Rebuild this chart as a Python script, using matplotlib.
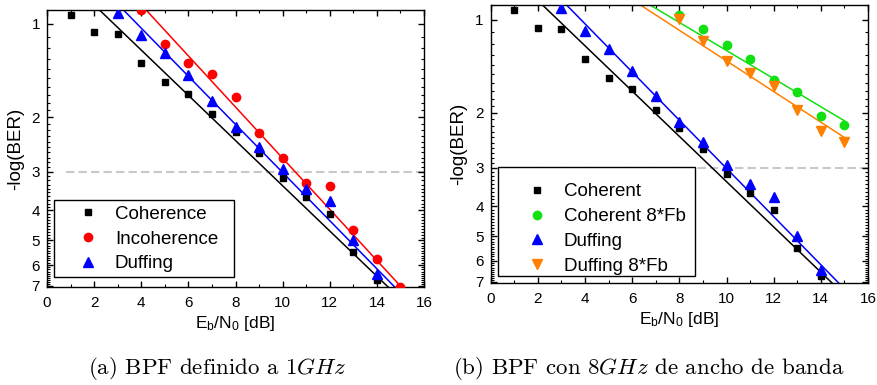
import numpy as np
import matplotlib
matplotlib.use("Agg")
import matplotlib.pyplot as plt
import matplotlib.ticker as mticker
import matplotlib.lines as mlines
from matplotlib.patches import Rectangle

plt.rcParams.update({
    'font.family': 'Liberation Sans',
    'mathtext.fontset': 'custom',
    'mathtext.rm': 'Liberation Sans',
    'mathtext.it': 'Liberation Sans:italic',
    'axes.linewidth': 1.0,
})

# ---------- data ----------
snr = [1, 2, 3, 4, 5, 6, 7, 8, 9, 10, 11, 12, 13, 14]
coherent = [0.935, 1.065, 1.075, 1.34, 1.545, 1.68, 1.95, 2.24, 2.62, 3.15, 3.62, 4.10, 5.43, 6.72]

snr_duff = [3, 4, 5, 6, 7, 8, 9, 10, 11, 12, 13, 14]
duffing = [0.92, 1.088, 1.245, 1.463, 1.77, 2.145, 2.49, 2.945, 3.40, 3.74, 5.0, 6.42]

snr_incoh = [4, 5, 6, 7, 8, 9, 10, 11, 12, 13, 14, 15]
incoherence = [0.90, 1.163, 1.34, 1.45, 1.72, 2.25, 2.70, 3.27, 3.33, 4.63, 5.74, 7.08]

snr_8fb = [8, 9, 10, 11, 12, 13, 14, 15]
coherent_8fb = [0.966, 1.077, 1.21, 1.339, 1.564, 1.714, 2.05, 2.18]
duffing_8fb = [0.993, 1.177, 1.359, 1.485, 1.643, 1.959, 2.284, 2.48]

# fitted lines (start / end points)
fit_coh_x, fit_coh_y = [2.21, 14.49], [0.90, 7.08]
fit_duf_x, fit_duf_y = [3.23, 14.77], [0.90, 7.08]
fit_inc_x, fit_inc_y = [4.19, 15.05], [0.90, 7.08]
fit_c8_x, fit_c8_y = [6.78, 15.0], [0.90, 2.12]
fit_d8_x, fit_d8_y = [6.37, 15.0], [0.90, 2.40]

BER_LIMIT = 3
YTICKS = [1, 2, 3, 4, 5, 6, 7]
XTICKS = [0, 2, 4, 6, 8, 10, 12, 14, 16]

BLACK = "black"
RED = "#ff0000"
BLUE = "#0000ff"
GREEN = "#11e011"
ORANGE = "#ff8000"

W, H = 877, 385
fig = plt.figure(figsize=(W / 100, H / 100), dpi=100)

ax1 = fig.add_axes([47 / W, 1 - 287.3 / H, 377 / W, 277.7 / H])
ax2 = fig.add_axes([490.7 / W, 1 - 283.3 / H, 377.3 / W, 278 / H])


def style_axis(ax):
    ax.set_yscale("log")
    ax.set_xlim(0, 16)
    ax.set_ylim(7.08, 0.90)
    ax.yaxis.set_major_locator(mticker.FixedLocator(YTICKS))
    ax.yaxis.set_major_formatter(mticker.FixedFormatter([str(t) for t in YTICKS]))
    ax.yaxis.set_minor_locator(mticker.FixedLocator(np.arange(0.9, 7.1, 0.1)))
    ax.yaxis.set_minor_formatter(mticker.NullFormatter())
    ax.set_xticks(XTICKS)
    ax.xaxis.set_minor_locator(mticker.MultipleLocator(1))
    ax.tick_params(which="both", direction="in", top=True, right=True, labelsize=11)
    ax.tick_params(which="major", length=4, width=1.0)
    ax.tick_params(which="minor", length=2.5, width=0.8)
    ax.tick_params(axis="x", pad=6)
    ax.tick_params(axis="y", pad=5)
    ax.hlines(BER_LIMIT, 0.8, 16, colors="#c8c8c8", linestyles=(0, (4, 2)), lw=1.5, zorder=1)
    ax.set_xlabel(r"E$_\mathrm{b}$/N$_\mathrm{0}$ [dB]", fontsize=12.5)
    ax.set_ylabel("-log(BER)", fontsize=13.5)
    ax.xaxis.set_label_coords(0.5, -0.095)
    ax.yaxis.set_label_coords(-0.062, 0.5)


def framed_legend(ax, handles, box, anchor):
    ax.add_patch(Rectangle((box[0], box[1]), box[2], box[3], transform=ax.transAxes,
                           facecolor="white", edgecolor="black", lw=1.0, zorder=5))
    leg = ax.legend(handles=handles, loc="center left", bbox_to_anchor=anchor,
                    frameon=False, fontsize=13.5, borderpad=0, borderaxespad=0,
                    handlelength=1.6, handletextpad=0.64, labelspacing=0.41)
    leg.set_zorder(6)


def mk(color, marker, ms, label):
    return mlines.Line2D([], [], color=color, marker=marker, ms=ms, ls="none", label=label)


# ---------- (a) ----------
style_axis(ax1)
ax1.plot(fit_coh_x, fit_coh_y, color=BLACK, lw=1.1, zorder=2)
ax1.plot(fit_duf_x, fit_duf_y, color=BLUE, lw=1.1, zorder=2)
ax1.plot(fit_inc_x, fit_inc_y, color=RED, lw=1.1, zorder=2)
ax1.plot(snr, coherent, "s", color=BLACK, ms=5, zorder=3)
ax1.plot(snr_incoh, incoherence, "o", color=RED, ms=6, zorder=3)
ax1.plot(snr_duff, duffing, "^", color=BLUE, ms=6.5, zorder=3)
framed_legend(ax1,
              [mk(BLACK, "s", 5, "Coherence"), mk(RED, "o", 6, "Incoherence"),
               mk(BLUE, "^", 6.5, "Duffing")],
              (7 / 377, 10.3 / 277.7, 180 / 377, 77 / 277.7),
              (26 / 377, (287.3 - 239) / 277.7))

# ---------- (b) ----------
style_axis(ax2)
ax2.plot(fit_coh_x, fit_coh_y, color=BLACK, lw=1.1, zorder=2)
ax2.plot(fit_duf_x, fit_duf_y, color=BLUE, lw=1.1, zorder=2)
ax2.plot(fit_c8_x, fit_c8_y, color=GREEN, lw=1.1, zorder=2)
ax2.plot(fit_d8_x, fit_d8_y, color=ORANGE, lw=1.1, zorder=2)
ax2.plot(snr, coherent, "s", color=BLACK, ms=5, zorder=3)
ax2.plot(snr_8fb, coherent_8fb, "o", color=GREEN, ms=6, zorder=3)
ax2.plot(snr_duff, duffing, "^", color=BLUE, ms=6.5, zorder=3)
ax2.plot(snr_8fb, duffing_8fb, "v", color=ORANGE, ms=6.5, zorder=3)
framed_legend(ax2,
              [mk(BLACK, "s", 5, "Coherent"), mk(GREEN, "o", 6, "Coherent 8*Fb"),
               mk(BLUE, "^", 6.5, "Duffing"), mk(ORANGE, "v", 6.5, "Duffing 8*Fb")],
              (7.3 / 377.3, 7.3 / 278, 197 / 377.3, 109 / 278),
              (31 / 377.3, (283.3 - 229) / 278))

# captions
fig.text(217 / W, 1 - 368 / H, r"(a) BPF definido a $1GHz$", ha="center", va="center",
         fontsize=16.5, family="cmr10", math_fontfamily="cm")
fig.text(649 / W, 1 - 368 / H, r"(b) BPF con $8GHz$ de ancho de banda", ha="center", va="center",
         fontsize=16.5, family="cmr10", math_fontfamily="cm")

fig.savefig("out.png", dpi=100)
